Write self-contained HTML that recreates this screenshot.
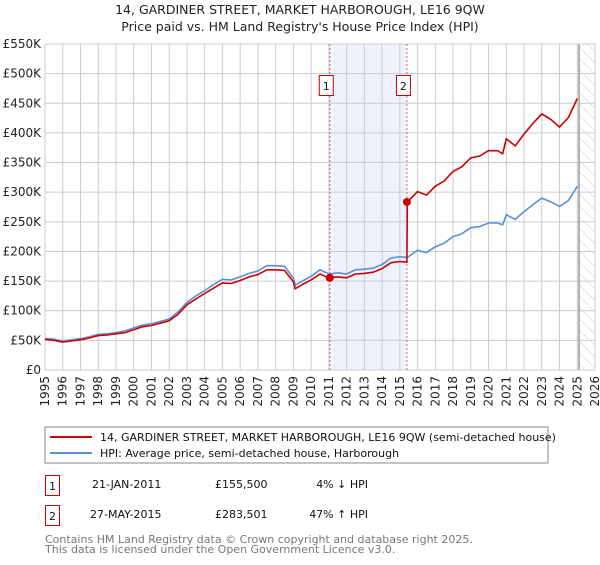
<!DOCTYPE html>
<html><head><meta charset="utf-8"><style>
body{margin:0;background:#fff;font-family:"Liberation Sans","DejaVu Sans",sans-serif;}
svg text{font-family:"DejaVu Sans","Liberation Sans",sans-serif;}
</style></head><body>
<svg id="chart" width="600" height="560" viewBox="0 0 600 560" xmlns="http://www.w3.org/2000/svg">
<defs><pattern id="hatch" width="8" height="8" patternUnits="userSpaceOnUse" patternTransform="rotate(-45)"><line x1="0" y1="0" x2="0" y2="8" stroke="#ccc" stroke-width="1"/></pattern></defs>
<text x="300" y="14" text-anchor="middle" font-size="12.5" fill="#222">14, GARDINER STREET, MARKET HARBOROUGH, LE16 9QW</text>
<text x="300" y="31" text-anchor="middle" font-size="12.5" fill="#222">Price paid vs. HM Land Registry's House Price Index (HPI)</text>
<g id="grid"></g>
<g id="series"></g>
<g id="axes"></g>
<rect x="45" y="427" width="503" height="36" fill="#fff" stroke="#888"/>
<line x1="50" y1="437" x2="92" y2="437" stroke="#cc0000" stroke-width="2"/>
<text x="100" y="441" font-size="11" fill="#111">14, GARDINER STREET, MARKET HARBOROUGH, LE16 9QW (semi-detached house)</text>
<line x1="50" y1="453" x2="92" y2="453" stroke="#5b8fd4" stroke-width="2"/>
<text x="100" y="457" font-size="11" fill="#111">HPI: Average price, semi-detached house, Harborough</text>
<g>
<rect x="45.5" y="475.5" width="14" height="20" fill="#fff" stroke="#cc0000"/>
<text x="52.5" y="490" text-anchor="middle" font-size="11" fill="#111">1</text>
<text x="92" y="488" font-size="11" fill="#111">21-JAN-2011</text>
<text x="215" y="488" font-size="11" fill="#111">£155,500</text>
<text x="368" y="488" text-anchor="end" font-size="11" fill="#111">4% ↓ HPI</text></g>
<g>
<rect x="45.5" y="505.5" width="14" height="20" fill="#fff" stroke="#cc0000"/>
<text x="52.5" y="520" text-anchor="middle" font-size="11" fill="#111">2</text>
<text x="90" y="518" font-size="11" fill="#111">27-MAY-2015</text>
<text x="215" y="518" font-size="11" fill="#111">£283,501</text>
<text x="368" y="518" text-anchor="end" font-size="11" fill="#111">47% ↑ HPI</text></g>
<text x="45" y="543" font-size="11" fill="#777">Contains HM Land Registry data © Crown copyright and database right 2025.</text>
<text x="45" y="553" font-size="11" fill="#777">This data is licensed under the Open Government Licence v3.0.</text>
</svg>
<script>
const years=[1995,1995.5,1996,1996.5,1997,1997.5,1998,1998.5,1999,1999.5,2000,2000.5,2001,2001.5,2002,2002.5,2003,2003.5,2004,2004.5,2005,2005.5,2006,2006.5,2007,2007.5,2008,2008.5,2009,2009.1,2009.5,2010,2010.5,2011,2011.5,2012,2012.5,2013,2013.5,2014,2014.5,2015,2015.4,2015.42,2016,2016.5,2017,2017.5,2018,2018.5,2019,2019.5,2020,2020.5,2020.8,2021,2021.5,2022,2022.5,2023,2023.5,2024,2024.5,2025];
const hpiValues=[53.5,52,49,51,53,56,60,61,63,66,71,76,78,82,86,98,114,125,134,144,153,152,157,163,167,176,176,175,155,143,150,158,169,162,164,162,169,170,172,178,189,191,190,190,202,198,208,214,225,230,240,242,248,248,245,262,254,267,279,290,284,276,286,310];
const priceValues=[51.5,50,47,49,51,54,58,59,61,63,68,73,75,79,83,94,110,120,129,138,147,146,151,157,161,169,169,168,149,137,144,152,162,155.5,157,155.5,162,163,165,171,181,183,182,283.5,301,295,310,319,335,343,358,361,370,370,365,390,378,398,416,432,423,410,426,458];
const yTicks=[0,50,100,150,200,250,300,350,400,450,500,550];
const yTickLabels=["£0","£50K","£100K","£150K","£200K","£250K","£300K","£350K","£400K","£450K","£500K","£550K"];
const xTicks=[1995,1996,1997,1998,1999,2000,2001,2002,2003,2004,2005,2006,2007,2008,2009,2010,2011,2012,2013,2014,2015,2016,2017,2018,2019,2020,2021,2022,2023,2024,2025,2026];
const saleYears=[2011.05,2015.4];
const saleValues=[155.5,283.5];
const saleLabels=["1","2"];
const NS="http://www.w3.org/2000/svg";
const L=45,R=595,T=44,B=370;
const x=v=>L+(v-1995)/(2026-1995)*(R-L);
const y=v=>B-v/550*(B-T);
function mk(tag,attrs,parent){const e=document.createElementNS(NS,tag);for(const k in attrs)e.setAttribute(k,attrs[k]);parent.appendChild(e);return e;}
const grid=document.getElementById('grid'),ser=document.getElementById('series'),ax=document.getElementById('axes');
let r=mk('rect',{x:x(saleYears[0]),y:T,width:x(saleYears[1])-x(saleYears[0]),height:B-T,fill:'#eef2fd'},grid);


yTicks.forEach((v,i)=>{
 let l=mk('line',{x1:L,x2:R,y1:y(v),y2:y(v),stroke:'#ccc'},grid);
 
 
 let t=mk('text',{x:L-4,y:y(v)+4,'text-anchor':'end','font-size':'12',fill:'#222'},ax);
 t.textContent=yTickLabels[i];
 
 
});
xTicks.forEach(v=>{
 let l=mk('line',{x1:x(v),x2:x(v),y1:T,y2:B,stroke:'#ccc'},grid);
 
 
 let t=mk('text',{x:0,y:0,'text-anchor':'end','font-size':'12',fill:'#222',transform:`translate(${x(v)+4},${B+6}) rotate(-90)`},ax);
 t.textContent=v;
 
 
});
let h=mk('rect',{x:x(2025.1),y:T,width:R-x(2025.1),height:B-T,fill:'url(#hatch)'},grid);


let hl=mk('line',{x1:x(2025.1),x2:x(2025.1),y1:T,y2:B,stroke:'#999','stroke-width':1.5},grid);


let fr=mk('rect',{x:L,y:T,width:R-L,height:B-T,fill:'none',stroke:'#ccc'},grid);


saleYears.forEach((v,i)=>{
 let l=mk('line',{x1:x(v),x2:x(v),y1:T,y2:B,stroke:'#e06060','stroke-dasharray':'2,2'},ser);
 
 
 let b=mk('rect',{x:x(v)-10.5,y:75.5,width:14,height:20,fill:'#fff',stroke:'#cc0000'},ser);
 
 
 let t=mk('text',{x:x(v)-3.5,y:90,'text-anchor':'middle','font-size':'11',fill:'#111'},ser);
 t.textContent=saleLabels[i];
 
 
});
const pts=a=>years.map((yr,i)=>x(yr).toFixed(1)+','+y(a[i]).toFixed(1)).join(' ');
let hp=mk('polyline',{points:pts(hpiValues),fill:'none',stroke:'#5b8fd4','stroke-width':1.6},ser);


let pp=mk('polyline',{points:pts(priceValues),fill:'none',stroke:'#cc0000','stroke-width':1.6},ser);


saleYears.forEach((v,i)=>{
 let c=mk('circle',{cx:x(v),cy:y(saleValues[i]),r:4,fill:'#cc0000'},ser);
 
 
});
</script>
</body></html>
